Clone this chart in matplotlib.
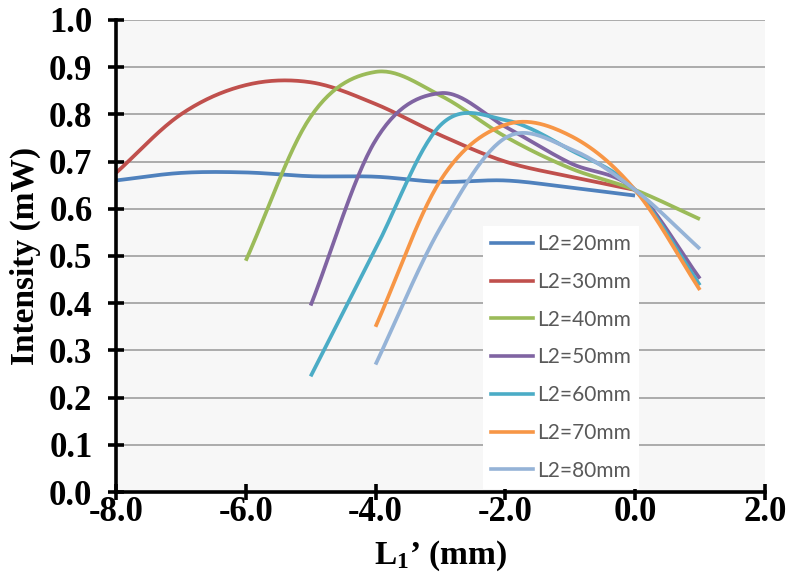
import numpy as np
import matplotlib
matplotlib.use("Agg")
import matplotlib.pyplot as plt
from matplotlib.lines import Line2D

# ---- data ----
labels = ["L2=20mm", "L2=30mm", "L2=40mm", "L2=50mm", "L2=60mm", "L2=70mm", "L2=80mm"]
colors = ["#4F81BD", "#C0504D", "#9BBB59", "#8064A2", "#4BACC6", "#F79646", "#95B3D7"]

x_20 = [-8, -7, -6, -5, -4, -3, -2, -1, 0]
y_20 = [0.660, 0.676, 0.677, 0.669, 0.668, 0.657, 0.660, 0.645, 0.628]
x_30 = [-8, -7, -6, -5, -4, -3, -2, -1, 0]
y_30 = [0.676, 0.800, 0.862, 0.868, 0.822, 0.756, 0.700, 0.668, 0.640]
x_40 = [-6, -5, -4, -3, -2, -1, 0, 1]
y_40 = [0.490, 0.795, 0.890, 0.840, 0.753, 0.686, 0.640, 0.578]
x_50 = [-5, -4, -3, -2, -1, 0, 1]
y_50 = [0.395, 0.745, 0.845, 0.774, 0.697, 0.640, 0.452]
x_60 = [-5, -4, -3, -2, -1, 0, 1]
y_60 = [0.245, 0.515, 0.777, 0.788, 0.725, 0.640, 0.438]
x_70 = [-4, -3, -2, -1, 0, 1]
y_70 = [0.350, 0.660, 0.778, 0.755, 0.640, 0.428]
x_80 = [-4, -3, -2, -1, 0, 1]
y_80 = [0.270, 0.560, 0.750, 0.727, 0.640, 0.515]

series = [(x_20, y_20), (x_30, y_30), (x_40, y_40), (x_50, y_50),
          (x_60, y_60), (x_70, y_70), (x_80, y_80)]

x_ticks = [-8.0, -6.0, -4.0, -2.0, 0.0, 2.0]
y_ticks = [0.0, 0.1, 0.2, 0.3, 0.4, 0.5, 0.6, 0.7, 0.8, 0.9, 1.0]


def smooth(xs, ys, n=30):
    """Catmull-Rom style smoothing (like Excel's smoothed lines)."""
    xs = np.asarray(xs, float)
    ys = np.asarray(ys, float)
    k = len(xs)
    m = np.zeros(k)
    for i in range(k):
        if i == 0:
            m[i] = (ys[1] - ys[0]) / (xs[1] - xs[0])
        elif i == k - 1:
            m[i] = (ys[-1] - ys[-2]) / (xs[-1] - xs[-2])
        else:
            m[i] = (ys[i + 1] - ys[i - 1]) / (xs[i + 1] - xs[i - 1])
    X, Y = [], []
    for i in range(k - 1):
        h = xs[i + 1] - xs[i]
        t = np.linspace(0, 1, n, endpoint=(i == k - 2))
        h00 = 2 * t**3 - 3 * t**2 + 1
        h10 = t**3 - 2 * t**2 + t
        h01 = -2 * t**3 + 3 * t**2
        h11 = t**3 - t**2
        X.append(xs[i] + t * h)
        Y.append(h00 * ys[i] + h10 * h * m[i] + h01 * ys[i + 1] + h11 * h * m[i + 1])
    return np.concatenate(X), np.concatenate(Y)


plt.rcParams["mathtext.fontset"] = "custom"
plt.rcParams["mathtext.rm"] = "Liberation Serif:bold"
plt.rcParams["mathtext.it"] = "Liberation Serif:bold"
plt.rcParams["mathtext.bf"] = "Liberation Serif:bold"

fig = plt.figure(figsize=(8.0, 5.84), dpi=100)
ax = fig.add_axes([0.145, 0.1575, 0.811, 0.8083])
ax.set_facecolor("#F7F7F7")

for (xs, ys), c, lab in zip(series, colors, labels):
    sx, sy = smooth(xs, ys)
    ax.plot(sx, sy, color=c, lw=2.7, solid_capstyle="butt", label=lab, zorder=3)

ax.set_xlim(-8, 2)
ax.set_ylim(0, 1)
ax.set_xticks(x_ticks)
ax.set_yticks(y_ticks)
ax.set_xticklabels([f"{v:.1f}" for v in x_ticks])
ax.set_yticklabels([f"{v:.1f}" for v in y_ticks])

for lbl in ax.get_xticklabels() + ax.get_yticklabels():
    lbl.set_fontfamily("Liberation Serif")
    lbl.set_fontweight("bold")
    lbl.set_fontsize(25)

ax.tick_params(axis="both", direction="inout", length=12, width=2.6, color="black")
ax.tick_params(axis="y", pad=11)
ax.tick_params(axis="x", pad=-3)

for s in ["top", "right"]:
    ax.spines[s].set_visible(False)
for s in ["left", "bottom"]:
    ax.spines[s].set_linewidth(2.6)
    ax.spines[s].set_color("black")
    ax.spines[s].set_zorder(5)

ax.yaxis.grid(True, color="#A6A6A6", lw=1.3)
ax.set_axisbelow(True)

ax.set_xlabel("L$_1$’ (mm)", fontfamily="Liberation Serif", fontweight="bold",
              fontsize=24, labelpad=7)
ax.set_ylabel("Intensity (mW)", fontfamily="Liberation Serif", fontweight="bold",
              fontsize=24, labelpad=6)

handles = [Line2D([0], [0], color=c, lw=2.6) for c in colors]
leg = fig.legend(handles, labels, loc="upper left",
                 bbox_to_anchor=(483 / 800, 1 - 226 / 584),
                 bbox_transform=fig.transFigure,
                 frameon=True, fancybox=False, framealpha=1, edgecolor="white",
                 facecolor="white", borderpad=0.4, labelspacing=0.85,
                 handlelength=2.0, handletextpad=0.2, borderaxespad=0,
                 prop={"family": "Lato", "size": 15})
leg.get_frame().set_linewidth(0)
for t in leg.get_texts():
    t.set_color("#595959")
# keep the 14-px left inset of the handles like the reference
leg._legend_box.align = "left"

fig.savefig("out.png", dpi=100)
